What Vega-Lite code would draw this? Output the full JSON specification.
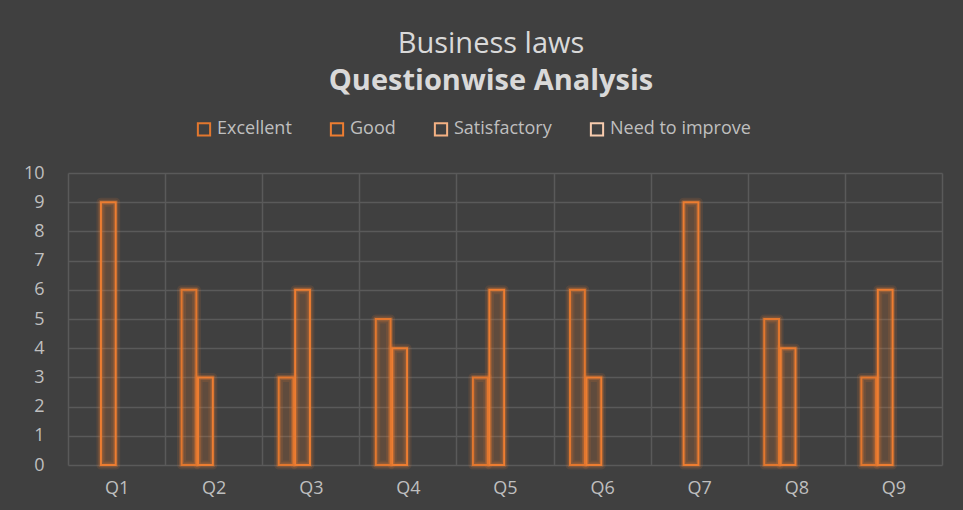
{
  "$schema": "https://vega.github.io/schema/vega-lite/v6.json",
  "autosize": {"type": "none"},
  "padding": {"left": 68, "top": 173, "right": 21, "bottom": 45},
  "width": 874,
  "height": 292,
  "background": "#404040",
  "title": {
    "text": "Business laws",
    "subtitle": "Questionwise Analysis",
    "font": "Open Sans",
    "fontSize": 29,
    "fontWeight": "normal",
    "color": "#d9d9d9",
    "subtitleFont": "Open Sans",
    "subtitleFontSize": 29,
    "subtitleFontWeight": "bold",
    "subtitleColor": "#d9d9d9",
    "subtitlePadding": 8,
    "anchor": "middle",
    "dx": -14,
    "offset": 24
  },
  "config": {
    "view": {"stroke": null},
    "axis": {
      "labelFont": "Open Sans",
      "labelFontSize": 18,
      "labelColor": "#bfbfbf",
      "gridColor": "#5a5a5a",
      "gridWidth": 1.5,
      "domain": false,
      "ticks": false,
      "title": null
    }
  },
  "data": {
    "values": [
      {"q": "Q1", "series": "Excellent", "value": 0},
      {"q": "Q1", "series": "Good", "value": 9},
      {"q": "Q1", "series": "Satisfactory", "value": 0},
      {"q": "Q1", "series": "Need to improve", "value": 0},
      {"q": "Q2", "series": "Excellent", "value": 6},
      {"q": "Q2", "series": "Good", "value": 3},
      {"q": "Q2", "series": "Satisfactory", "value": 0},
      {"q": "Q2", "series": "Need to improve", "value": 0},
      {"q": "Q3", "series": "Excellent", "value": 3},
      {"q": "Q3", "series": "Good", "value": 6},
      {"q": "Q3", "series": "Satisfactory", "value": 0},
      {"q": "Q3", "series": "Need to improve", "value": 0},
      {"q": "Q4", "series": "Excellent", "value": 5},
      {"q": "Q4", "series": "Good", "value": 4},
      {"q": "Q4", "series": "Satisfactory", "value": 0},
      {"q": "Q4", "series": "Need to improve", "value": 0},
      {"q": "Q5", "series": "Excellent", "value": 3},
      {"q": "Q5", "series": "Good", "value": 6},
      {"q": "Q5", "series": "Satisfactory", "value": 0},
      {"q": "Q5", "series": "Need to improve", "value": 0},
      {"q": "Q6", "series": "Excellent", "value": 6},
      {"q": "Q6", "series": "Good", "value": 3},
      {"q": "Q6", "series": "Satisfactory", "value": 0},
      {"q": "Q6", "series": "Need to improve", "value": 0},
      {"q": "Q7", "series": "Excellent", "value": 0},
      {"q": "Q7", "series": "Good", "value": 9},
      {"q": "Q7", "series": "Satisfactory", "value": 0},
      {"q": "Q7", "series": "Need to improve", "value": 0},
      {"q": "Q8", "series": "Excellent", "value": 5},
      {"q": "Q8", "series": "Good", "value": 4},
      {"q": "Q8", "series": "Satisfactory", "value": 0},
      {"q": "Q8", "series": "Need to improve", "value": 0},
      {"q": "Q9", "series": "Excellent", "value": 3},
      {"q": "Q9", "series": "Good", "value": 6},
      {"q": "Q9", "series": "Satisfactory", "value": 0},
      {"q": "Q9", "series": "Need to improve", "value": 0}
    ]
  },
  "transform": [{"filter": "datum.value > 0"}],
  "encoding": {
    "x": {
      "field": "q",
      "type": "nominal",
      "sort": null,
      "scale": {"paddingInner": 0, "paddingOuter": 0},
      "axis": {"labelAngle": 0, "grid": true, "tickBand": "extent", "labelPadding": 14}
    },
    "xOffset": {
      "field": "series",
      "type": "nominal",
      "sort": ["Excellent", "Good", "Satisfactory", "Need to improve"],
      "scale": {"domain": ["Excellent", "Good", "Satisfactory", "Need to improve"], "paddingOuter": 1.2, "paddingInner": 0.1}
    },
    "y": {
      "field": "value",
      "type": "quantitative",
      "scale": {"domain": [0, 10], "nice": false},
      "axis": {"values": [0,1,2,3,4,5,6,7,8,9,10], "labelOverlap": false, "labelPadding": 24, "grid": true}
    }
  },
  "layer": [
    {
      "mark": {"type": "bar", "fill": "transparent", "stroke": "#ED7D31", "strokeWidth": 9, "strokeOpacity": 0.12, "strokeJoin": "round"},
      "encoding": {}
    },
    {
      "mark": {"type": "bar", "fill": "transparent", "stroke": "#ED7D31", "strokeWidth": 5, "strokeOpacity": 0.25, "strokeJoin": "round"},
      "encoding": {}
    },
    {
      "mark": {"type": "bar", "fill": "#ED7D31", "fillOpacity": 0.18, "strokeWidth": 0},
      "encoding": {}
    },
    {
      "mark": {"type": "bar", "fill": "transparent", "strokeWidth": 2},
      "encoding": {
        "stroke": {
          "field": "series",
          "type": "nominal",
          "scale": {
            "domain": ["Excellent", "Good", "Satisfactory", "Need to improve"],
            "range": ["#E2772E", "#ED7D31", "#F4B183", "#F8CBAD"]
          },
          "legend": {
            "title": null,
            "orient": "none",
            "legendX": 127,
            "legendY": -53,
            "direction": "horizontal",
            "symbolType": "square",
            "symbolSize": 150,
            "symbolStrokeWidth": 2,
            "symbolFillColor": "transparent",
            "labelFont": "Open Sans",
            "labelFontSize": 18,
            "labelColor": "#bfbfbf",
            "labelOffset": 4,
            "columnPadding": 34
          }
        }
      }
    }
  ]
}
